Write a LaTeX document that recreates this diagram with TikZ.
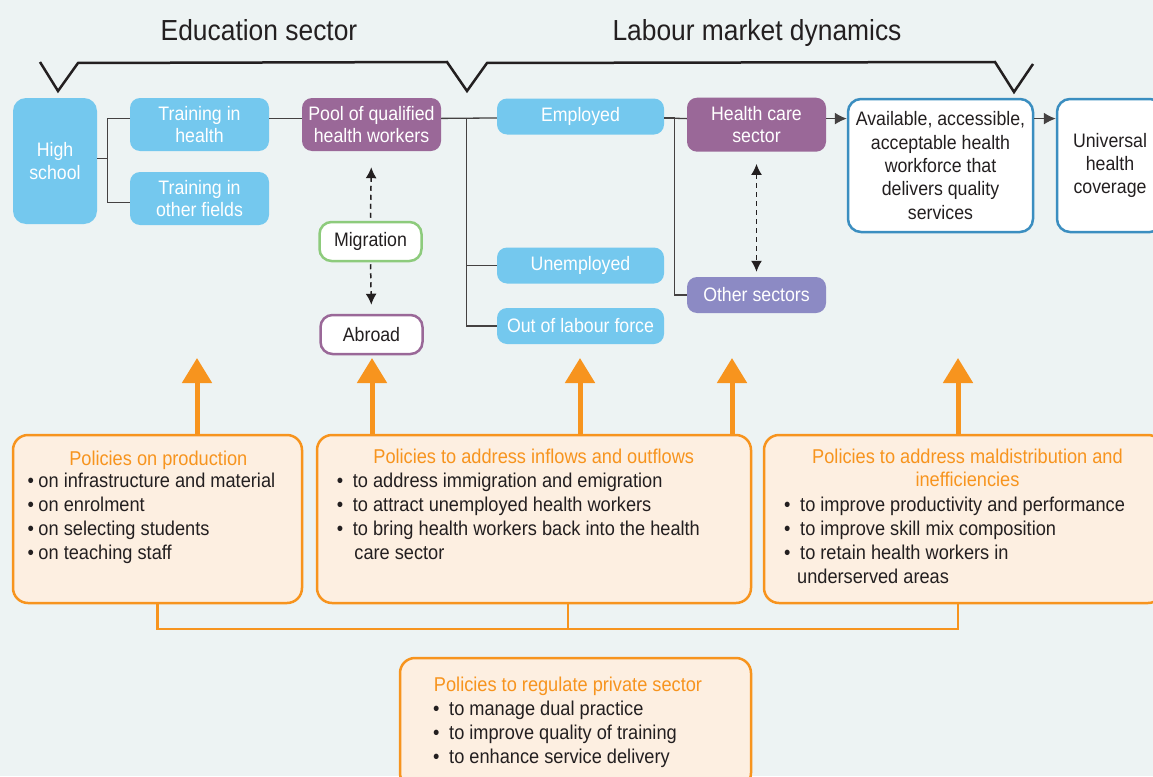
\documentclass[tikz,border=0pt]{standalone}
\usepackage{fontspec}
\setmainfont[FakeStretch=0.91]{Liberation Sans}
\usetikzlibrary{arrows.meta}

\definecolor{bgcol}{HTML}{EDF3F3}
\definecolor{skyblue}{HTML}{74C8EE}
\definecolor{plum}{HTML}{9A6898}
\definecolor{lavender}{HTML}{8C8AC4}
\definecolor{deepblue}{HTML}{3B8EC0}
\definecolor{leaf}{HTML}{8DCB7C}
\definecolor{amber}{HTML}{F7941E}
\definecolor{peach}{HTML}{FDEFE1}
\definecolor{ink}{HTML}{231F20}

\newcommand\bul{\makebox[11pt][l]{\textbullet}}
\newcommand\bulw{\makebox[16pt][l]{\textbullet}}

\tikzset{
  box/.style={rounded corners=10pt, inner sep=0pt, align=center, font=\fontsize{19.5}{22}\selectfont},
  bluebox/.style={box, fill=skyblue, text=white},
  plumbox/.style={box, fill=plum, text=white},
  outcome/.style={box, draw=deepblue, line width=2.5pt, fill=white, text=ink, rounded corners=13pt, font=\fontsize{19.5}{23.3}\selectfont},
  ringbox/.style={box, line width=2.5pt, fill=white, text=ink, rounded corners=12pt},
  policy/.style={draw=amber, line width=2.5pt, fill=peach, rounded corners=15pt, inner sep=0pt},
  ptitle/.style={text=amber, font=\fontsize{20}{23.4}\selectfont, inner sep=0pt, align=center},
  plist/.style={text=ink, font=\fontsize{20}{24}\selectfont, inner sep=0pt, align=left, anchor=north west},
  heading/.style={text=ink, font=\fontsize{29}{34}\selectfont, inner sep=0pt, anchor=base},
  link/.style={line width=1.3pt, draw=ink!85},
  flow/.style={link, -{Latex[length=12pt,width=12pt]}},
  moveline/.style={line width=1.5pt, draw=ink, dash pattern=on 5pt off 4pt},
  tip/.style={-{Latex[length=11pt,width=11pt]}},
  push/.style={line width=5pt, draw=amber, -{Triangle[length=25pt,width=29pt]}},
  bond/.style={line width=2.5pt, draw=amber},
}

\begin{document}
\begin{tikzpicture}[x=1pt,y=-1pt]
  \useasboundingbox (0,0) rectangle (1153,776);
  \clip (0,0) rectangle (1153,776);
  \fill[bgcol] (0,0) rectangle (1153,776);

  % headings and brace
  \node[heading] (edu) at (259,41) {Education sector};
  \node[heading] (lab) at (757,41) {Labour market dynamics};
  \draw[line width=2.5pt, ink] (40,62) -- (58,91) -- (78,63) -- (447,62) -- (467,91)
    -- (487,63) -- (995,62) -- (1014,92) -- (1033,64);

  % education sector
  \node[bluebox, minimum width=84pt, minimum height=126pt, rounded corners=13pt, font=\fontsize{19.5}{23.3}\selectfont] (hs) at (55,161) {High\\school};
  \node[bluebox, minimum width=139pt, minimum height=53pt] (th) at (199.5,124.5) {Training in\\health};
  \node[bluebox, minimum width=139pt, minimum height=53pt] (tof) at (199.5,198.5) {Training in\\other fields};
  \node[plumbox, minimum width=139pt, minimum height=53pt] (pool) at (371.5,124.5) {Pool of qualified\\health workers};
  \node[ringbox, draw=leaf, minimum width=102pt, minimum height=39pt] (mig) at (370.5,241.5) {Migration};
  \node[ringbox, draw=plum, minimum width=102pt, minimum height=39pt] (abr) at (371.5,334.5) {Abroad};

  % labour market
  \node[bluebox, minimum width=167pt, minimum height=36pt] (emp) at (580.5,116.5) {Employed};
  \node[bluebox, minimum width=167pt, minimum height=36pt] (une) at (580.5,265.5) {Unemployed};
  \node[bluebox, minimum width=167pt, minimum height=36pt] (olf) at (580.5,326) {Out of labour force};
  \node[plumbox, minimum width=139pt, minimum height=54pt] (hcs) at (756.5,124.7) {Health care\\sector};
  \node[box, fill=lavender, text=white, minimum width=139pt, minimum height=36pt] (oth) at (756.5,295) {Other sectors};
  \node[outcome, minimum width=185pt, minimum height=133pt] (avl) at (940.5,165.5) {Available, accessible,\\acceptable health\\workforce that\\delivers quality\\services};
  \node[outcome, minimum width=106pt, minimum height=133pt] (uhc) at (1110,165.5) {Universal\\health\\coverage};

  % connectors
  \draw[link] (th.175) -- ++(-22,0) coordinate (fork) |- (tof.183);
  \draw[link] (hs.3) -- (hs.3 -| fork);
  \draw[link] (th.5) -- (pool.175);
  \draw[link] (pool.5) -- (emp.181);
  \draw[link] (une.west) -- ++(-30,0) coordinate (lm);
  \draw[link] (lm |- emp.181) |- (olf.west);
  \draw[link] (emp.-1) -- (hcs.175);
  \draw[link] (oth.west) -- ++(-12.5,0) |- (emp.-1);
  \draw[flow] (hcs.5) -- (hcs.5 -| avl.west);
  \draw[flow] (avl.east |- hcs.5) -- (uhc.west |- hcs.5);
  \draw[moveline, tip, shorten <=3pt, shorten >=16pt] (mig.north) -- (pool.south);
  \draw[moveline, tip, shorten <=2pt, shorten >=9pt] (mig.south) -- (abr.north);
  \draw[moveline, {Latex[length=11pt,width=11pt]}-{Latex[length=11pt,width=11pt]}, shorten <=12pt, shorten >=5pt] (hcs.south) -- (oth.north);

  % policy boxes
  \node[policy, minimum width=289pt, minimum height=168pt] (p1) at (157.5,519) {};
  \node[policy, minimum width=434pt, minimum height=168pt] (p2) at (534,519) {};
  \node[policy, minimum width=399pt, minimum height=168pt] (p3) at (963.5,519) {};
  \node[policy, minimum width=351pt, minimum height=130pt] (p4) at (575.5,723) {};

  \node[ptitle, anchor=base] (p1t) at (158.3,465) {Policies on production};
  \node[ptitle, anchor=base] (p2t) at (533.7,463.5) {Policies to address inflows and outflows};
  \node[ptitle, anchor=north] (p3t) at (967.5,448.5) {Policies to address maldistribution and\\inefficiencies};
  \node[ptitle, anchor=base] (p4t) at (568,691.7) {Policies to regulate private sector};

  \node[plist] (p1l) at (27.3,473) {\bul on infrastructure and material\\ \bul on enrolment\\ \bul on selecting students\\ \bul on teaching staff};
  \node[plist] (p2l) at (336.7,473) {\bulw to address immigration and emigration\\ \bulw to attract unemployed health workers\\ \bulw to bring health workers back into the health\\ \hspace*{17.5pt}care sector};
  \node[plist] (p3l) at (784,497) {\bulw to improve productivity and performance\\ \bulw to improve skill mix composition\\ \bulw to retain health workers in\\ \hspace*{13pt}underserved areas};
  \node[plist] (p4l) at (433,700.5) {\bulw to manage dual practice\\ \bulw to improve quality of training\\ \bulw to enhance service delivery};

  % policy arrows
  \coordinate (t1) at (197,358);
  \coordinate (t2) at (372,358);
  \coordinate (t3) at (580,358);
  \coordinate (t4) at (732,358);
  \coordinate (t5) at (958,358);
  \draw[push] (p1.north -| t1) -- (t1);
  \draw[push] (p2.north -| t2) -- (t2);
  \draw[push] (p2.north -| t3) -- (t3);
  \draw[push] (p2.north -| t4) -- (t4);
  \draw[push] (p3.north -| t5) -- (t5);

  % joining line under the boxes
  \coordinate (hub) at (568,629);
  \draw[bond] (p1.south) |- (hub) -| (p3.south -| t5);
  \draw[bond] (hub) -- (hub |- p2.south);
\end{tikzpicture}
\end{document}
